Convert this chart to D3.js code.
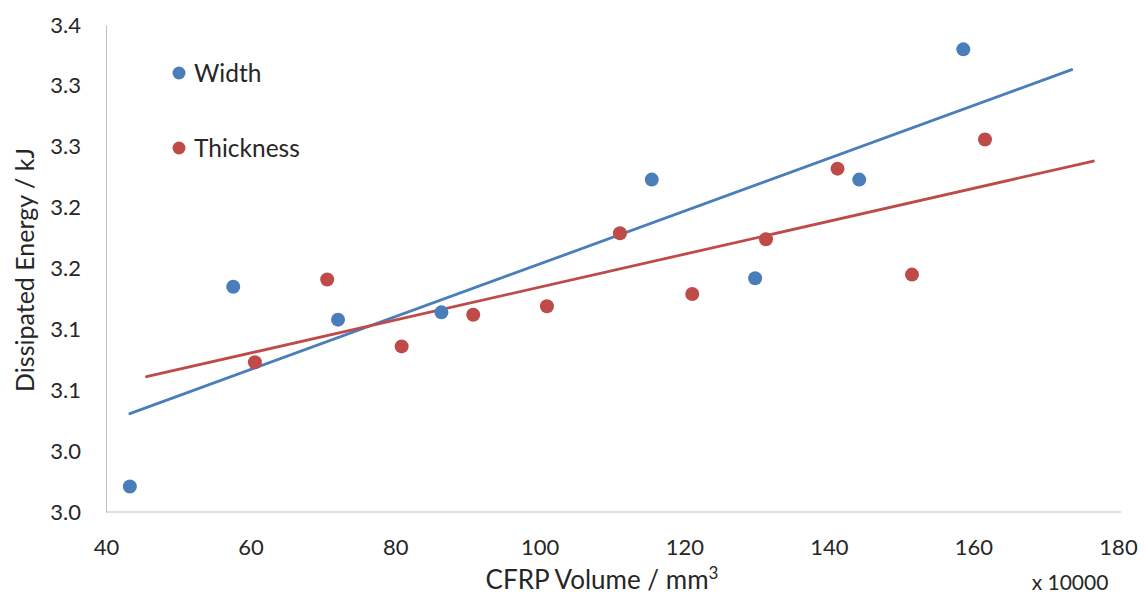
<!DOCTYPE html>
<html><head><meta charset="utf-8">
<script src="https://cdn.jsdelivr.net/npm/d3@7"></script>
<style>body{margin:0;background:#fff}svg{display:block}text{font-family:Lato,"Open Sans",sans-serif;fill:#262626}</style>
</head><body><svg id="c" width="1145" height="597"></svg>
<script>
const widthX = [43.3, 57.6, 72.1, 86.4, 115.5, 129.8, 144.2, 158.6];
const widthY = [3.021, 3.185, 3.158, 3.164, 3.273, 3.192, 3.273, 3.380];
const thickX = [60.6, 70.6, 80.9, 90.8, 101.0, 111.1, 121.1, 131.3, 141.2, 151.5, 161.6];
const thickY = [3.123, 3.191, 3.136, 3.162, 3.169, 3.229, 3.179, 3.224, 3.282, 3.195, 3.306];
const xTicks = [40, 60, 80, 100, 120, 140, 160, 180];
const yTicks = [3.00, 3.05, 3.10, 3.15, 3.20, 3.25, 3.30, 3.35, 3.40];
const yTickLabels = ["3.0","3.0","3.1","3.1","3.2","3.2","3.3","3.3","3.4"];
const seriesNames = ["Width", "Thickness"];
const colors = ["#4A7EBB", "#BE4B48"];
// trendline forecast (backward, forward) in x units
const forecast = [[0, 15], [15, 15]];

const svg = d3.select("#c");
const x = d3.scaleLinear().domain([40, 180]).range([106, 1118]);
const y = d3.scaleLinear().domain([3.0, 3.4]).range([512, 25]);

// axes
const xAx = svg.append("g").attr("transform", "translate(0,512)")
  .call(d3.axisBottom(x).tickValues(xTicks).tickSize(0).tickPadding(27));
xAx.select(".domain").attr("stroke", "#BFBFBF").attr("d", "M106,0H1121");
xAx.selectAll("text").attr("font-size", 22).attr("fill", "#262626").style("font-family", "Lato");

const yAx = svg.append("g").attr("transform", "translate(106,0)")
  .call(d3.axisLeft(y).tickValues(yTicks).tickSize(0).tickPadding(25).tickFormat((d, i) => yTickLabels[i]));
yAx.select(".domain").attr("stroke", "#BFBFBF");
yAx.selectAll("text").attr("font-size", 22).attr("fill", "#262626").style("font-family", "Lato");

// titles
svg.append("text").attr("transform", "translate(34,270) rotate(-90)").attr("text-anchor", "middle")
  .attr("font-size", 25).text("Dissipated Energy / kJ");
const xt = svg.append("text").attr("x", 602).attr("y", 589).attr("text-anchor", "middle").attr("font-size", 26);
xt.append("tspan").text("CFRP Volume / mm");
xt.append("tspan").attr("dy", -10).attr("font-size", 17).text("3");
svg.append("text").attr("x", 1070).attr("y", 590).attr("text-anchor", "middle").attr("font-size", 21).text("x 10000");

// series
const series = [[widthX, widthY], [thickX, thickY]];
series.forEach(([xs, ys], si) => {
  const mx = d3.mean(xs), my = d3.mean(ys);
  const sxy = d3.sum(xs, (v, i) => (v - mx) * (ys[i] - my));
  const sxx = d3.sum(xs, v => (v - mx) * (v - mx));
  const b = sxy / sxx, a = my - b * mx;
  const x0 = d3.min(xs) - forecast[si][0], x1 = d3.max(xs) + forecast[si][1];
  svg.append("line").attr("x1", x(x0)).attr("y1", y(a + b * x0)).attr("x2", x(x1)).attr("y2", y(a + b * x1))
    .attr("stroke", colors[si]).attr("stroke-width", 2.8).attr("stroke-linecap", "round");
});
series.forEach(([xs, ys], si) => {
  svg.append("g").selectAll("circle").data(xs).join("circle")
    .attr("cx", d => x(d)).attr("cy", (d, i) => y(ys[i])).attr("r", 7).attr("fill", colors[si]);
});

// legend
seriesNames.forEach((nm, i) => {
  const ly = 73 + i * 75;
  svg.append("circle").attr("cx", 179).attr("cy", ly).attr("r", 6.5).attr("fill", colors[i]);
  svg.append("text").attr("x", 194).attr("y", ly + 9).attr("font-size", 24.5).text(nm);
});
</script></body></html>
